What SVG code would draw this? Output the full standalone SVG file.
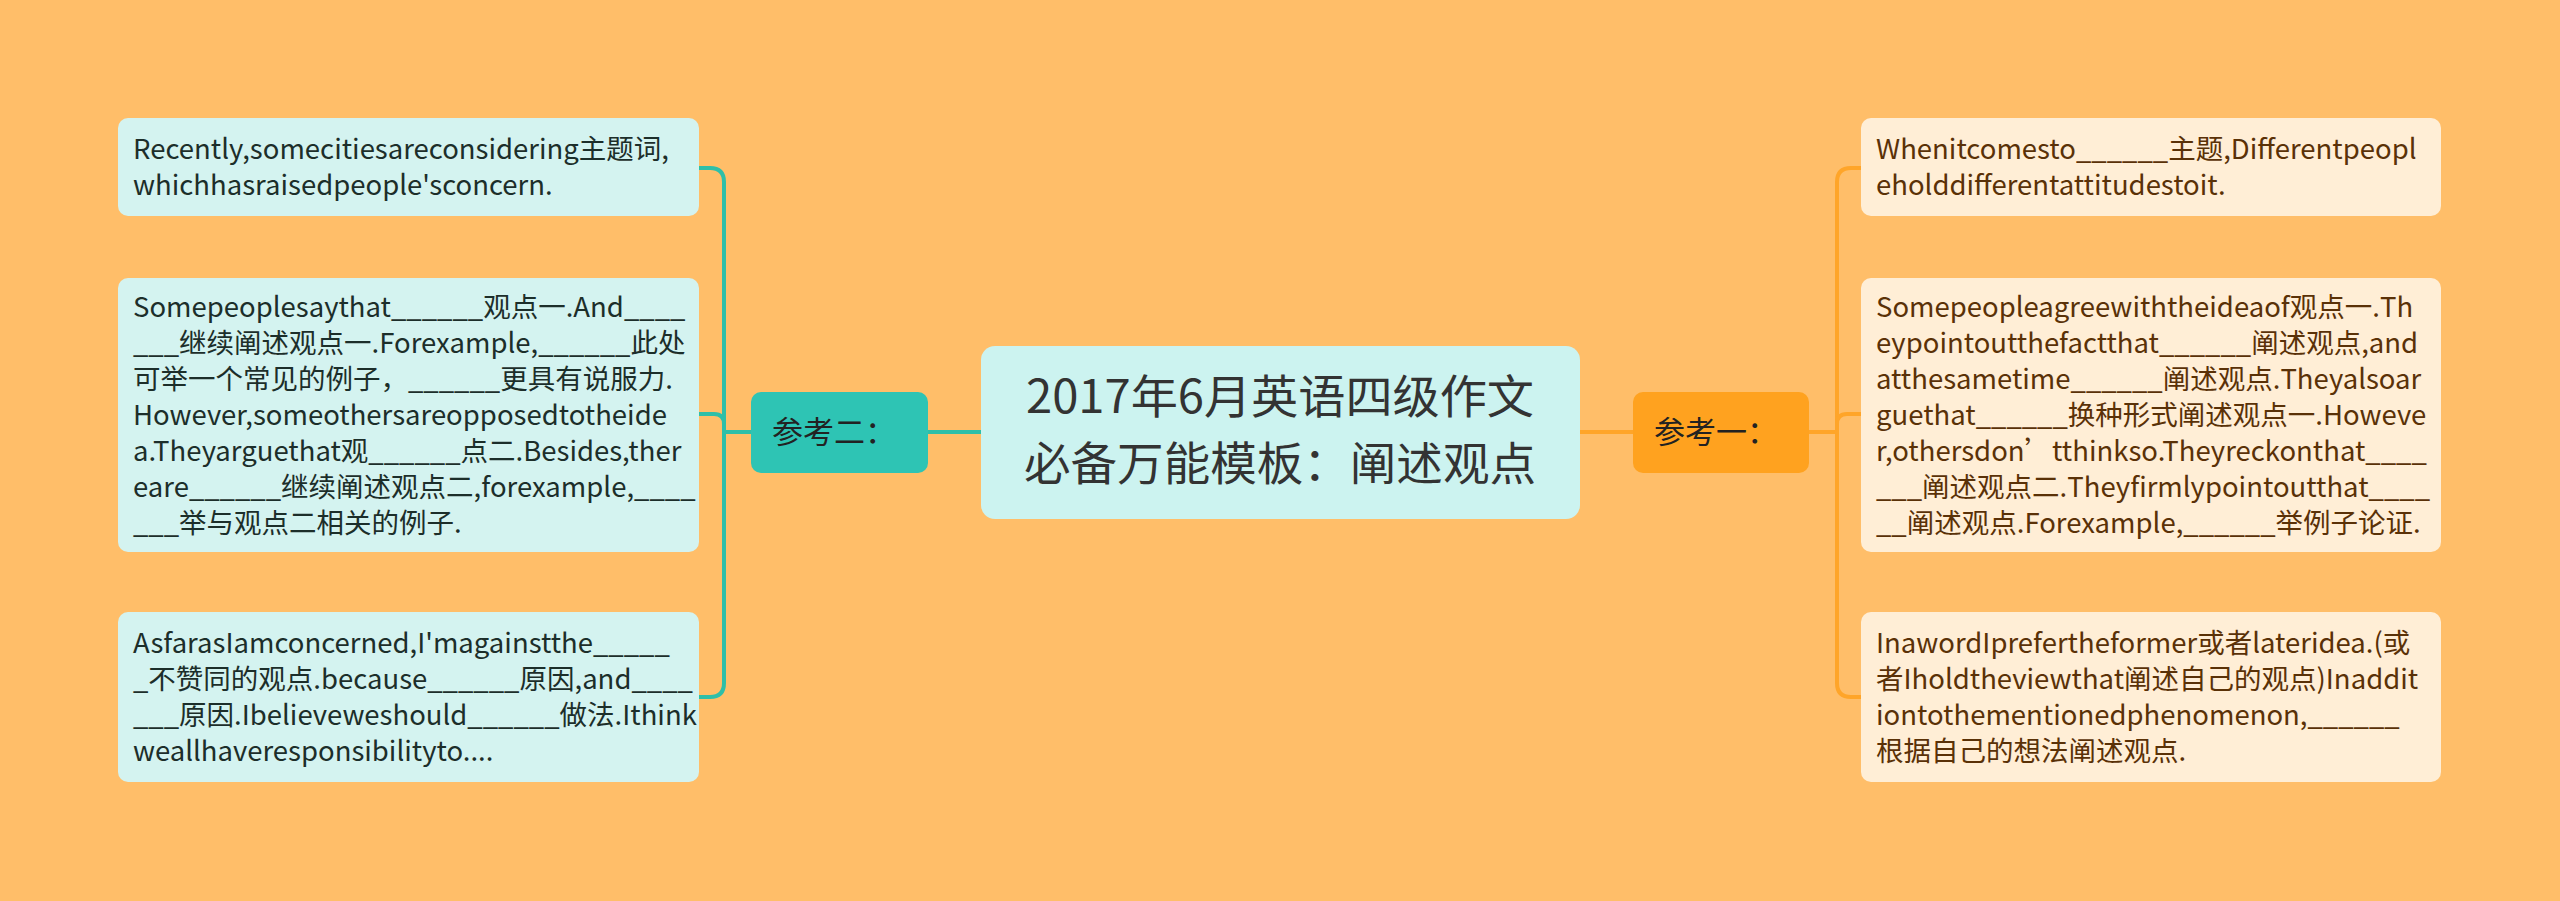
<svg xmlns="http://www.w3.org/2000/svg" width="2560" height="901" viewBox="0 0 2560 901">
<style>
text{font-family:"Noto Sans CJK SC","Noto Sans",sans-serif;}
.bg{fill:#FFBE69;}
.lleaf{fill:#D4F3F0;}
.rleaf{fill:#FFEED6;}
.ltxt{font-size:27.5px;fill:#1C2E2A;}
.rtxt{font-size:27.5px;fill:#5A3107;}
.tl{fill:none;stroke:#2EBFA8;stroke-width:4;}
.or{fill:none;stroke:#FFA529;stroke-width:4;}
.sub{font-size:31px;fill:#222;text-anchor:middle;}
.title{font-size:46px;fill:#333;text-anchor:middle;}
</style>
<rect class="bg" x="0" y="0" width="2560" height="901"/>
<g id="connectors">
<path class="tl" d="M981 432 H928"/>
<path class="tl" d="M751 432 H724 V182 Q724 168 710 168 H699"/>
<path class="tl" d="M751 432 H724 V424 Q724 414 714 414 H699"/>
<path class="tl" d="M751 432 H724 V683 Q724 697 710 697 H699"/>
<path class="or" d="M1580 432 H1633"/>
<path class="or" d="M1808 432 H1837 V182 Q1837 168 1851 168 H1861"/>
<path class="or" d="M1808 432 H1837 V424 Q1837 414 1847 414 H1861"/>
<path class="or" d="M1808 432 H1837 V683 Q1837 697 1851 697 H1861"/>
</g>
<g id="center">
<rect x="981" y="346" width="599" height="173" rx="14" fill="#CCF3F0"/>
<text class="title"><tspan x="1280" y="413" textLength="508" lengthAdjust="spacingAndGlyphs">2017年6月英语四级作文</tspan><tspan x="1280" y="480" textLength="512" lengthAdjust="spacingAndGlyphs">必备万能模板：阐述观点</tspan></text>
</g>
<g id="ref2">
<rect x="751" y="392" width="177" height="81" rx="10" fill="#2EC4B4"/>
<text class="sub" x="834" y="443">参考二：</text>
</g>
<g id="ref1">
<rect x="1633" y="392" width="176" height="81" rx="10" fill="#FFA21F"/>
<text class="sub" x="1716" y="443">参考一：</text>
</g>
<g id="left1">
<rect class="lleaf" x="118" y="118" width="581" height="98" rx="10"/>
<text class="ltxt" x="133"><tspan x="133" y="159">Recently,somecitiesareconsidering主题词,</tspan><tspan x="133" y="195">whichhasraisedpeople'sconcern.</tspan></text>
</g>
<g id="left2">
<rect class="lleaf" x="118" y="278" width="581" height="274" rx="10"/>
<text class="ltxt"><tspan x="133" y="317">Somepeoplesaythat______观点一.And____</tspan><tspan x="133" y="353">___继续阐述观点一.Forexample,______此处</tspan><tspan x="133" y="389">可举一个常见的例子，______更具有说服力.</tspan><tspan x="133" y="425">However,someothersareopposedtotheide</tspan><tspan x="133" y="461">a.Theyarguethat观______点二.Besides,ther</tspan><tspan x="133" y="497">eare______继续阐述观点二,forexample,____</tspan><tspan x="133" y="533">___举与观点二相关的例子.</tspan></text>
</g>
<g id="left3">
<rect class="lleaf" x="118" y="612" width="581" height="170" rx="10"/>
<text class="ltxt"><tspan x="133" y="653">AsfarasIamconcerned,I'magainstthe_____</tspan><tspan x="133" y="689">_不赞同的观点.because______原因,and____</tspan><tspan x="133" y="725">___原因.Ibelieveweshould______做法.Ithink</tspan><tspan x="133" y="761">weallhaveresponsibilityto....</tspan></text>
</g>
<g id="right1">
<rect class="rleaf" x="1861" y="118" width="580" height="98" rx="10"/>
<text class="rtxt"><tspan x="1876" y="159">Whenitcomesto______主题,Differentpeopl</tspan><tspan x="1876" y="195">eholddifferentattitudestoit.</tspan></text>
</g>
<g id="right2">
<rect class="rleaf" x="1861" y="278" width="580" height="274" rx="10"/>
<text class="rtxt"><tspan x="1876" y="317">Somepeopleagreewiththeideaof观点一.Th</tspan><tspan x="1876" y="353">eypointoutthefactthat______阐述观点,and</tspan><tspan x="1876" y="389">atthesametime______阐述观点.Theyalsoar</tspan><tspan x="1876" y="425">guethat______换种形式阐述观点一.Howeve</tspan><tspan x="1876" y="461">r,othersdon’tthinkso.Theyreckonthat____</tspan><tspan x="1876" y="497">___阐述观点二.Theyfirmlypointoutthat____</tspan><tspan x="1876" y="533">__阐述观点.Forexample,______举例子论证.</tspan></text>
</g>
<g id="right3">
<rect class="rleaf" x="1861" y="612" width="580" height="170" rx="10"/>
<text class="rtxt"><tspan x="1876" y="653">InawordIprefertheformer或者lateridea.(或</tspan><tspan x="1876" y="689">者Iholdtheviewthat阐述自己的观点)Inaddit</tspan><tspan x="1876" y="725">iontothementionedphenomenon,______</tspan><tspan x="1876" y="761">根据自己的想法阐述观点.</tspan></text>
</g>
</svg>
